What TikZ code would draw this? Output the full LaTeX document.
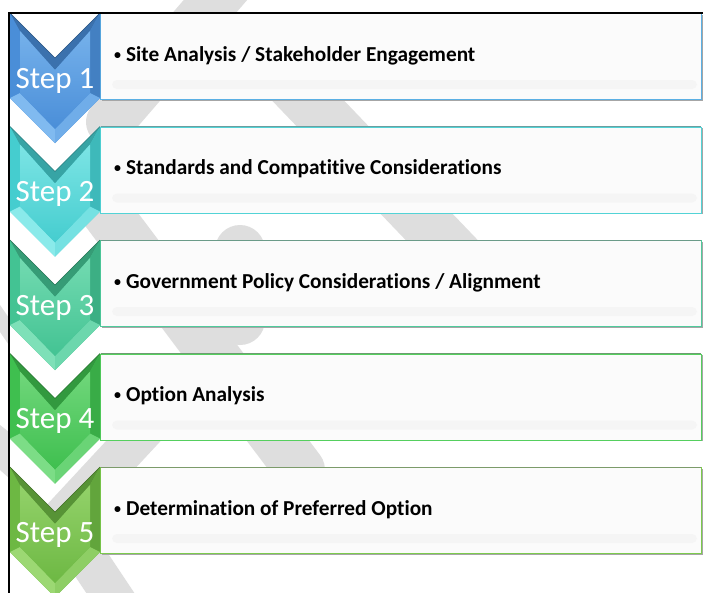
\documentclass[tikz,border=0pt]{standalone}
\usepackage{fontspec}
\setmainfont{Carlito}[Ligatures={NoCommon,NoRare}]
\definecolor{wm}{RGB}{222,222,222}
\definecolor{boxfill}{RGB}{251,251,251}
\definecolor{cabase}{RGB}{74,142,216}
\definecolor{calight}{RGB}{128,186,240}
\definecolor{caedge}{RGB}{91,176,228}
\definecolor{cbbase}{RGB}{69,205,207}
\definecolor{cblight}{RGB}{138,234,234}
\definecolor{cbedge}{RGB}{82,211,214}
\definecolor{ccbase}{RGB}{67,195,147}
\definecolor{cclight}{RGB}{126,224,184}
\definecolor{ccedge}{RGB}{79,203,156}
\definecolor{cdbase}{RGB}{63,191,79}
\definecolor{cdlight}{RGB}{124,221,134}
\definecolor{cdedge}{RGB}{85,207,94}
\definecolor{cebase}{RGB}{109,184,67}
\definecolor{celight}{RGB}{156,216,115}
\definecolor{ceedge}{RGB}{124,203,76}
\tikzset{
  band/.style={draw=wm, line cap=round},
  boxshape/.style={draw=#1, line width=1.2pt, fill=boxfill, minimum width=601pt, minimum height=86pt, inner sep=0pt, anchor=north west},
  steplabel/.style={anchor=base, text=white, inner sep=0pt, font=\fontsize{31}{36}\selectfont},
  itemtext/.style={anchor=base west, inner sep=0pt, font=\bfseries\fontsize{21.3}{25}\selectfont}
}
\newcommand{\smallbullet}{\raisebox{2pt}{\fontsize{14}{14}\selectfont •}}
% #1 index, #2 top, #3 colour prefix, #4 text
\newcommand{\chevstep}[4]{%
  \fill[black!35] (101.5,{#2+1.5}) rectangle (702.5,{#2+87.5});
  \node[boxshape=#3edge] (box#1) at (100,#2) {};
  \fill[black!4, rounded corners=5pt] (112,{#2+67}) rectangle (697,{#2+76});
  \draw[#3edge!55!black!70, line width=1pt] (100.5,#2) -- (700.5,#2);
  \node[itemtext] (txt#1) at (114,{#2+48}) {\smallbullet\hspace{5pt}#4};
  % chevron
  \fill[#3base] (10,#2) -- (55,{#2+45}) -- (100,#2) -- (100,{#2+85}) -- (55,{#2+130}) -- (10,{#2+85}) -- cycle;
  \fill[#3base!80!black] (10,#2) -- (55,{#2+45}) -- (100,#2) -- (90,{#2+18}) -- (55,{#2+57}) -- (20,{#2+18}) -- cycle;
  \fill[#3base!90!black] (100,#2) -- (100,{#2+85}) -- (90,{#2+80}) -- (90,{#2+18}) -- cycle;
  \fill[#3light] (10,{#2+85}) -- (55,{#2+130}) -- (55,{#2+116}) -- (20,{#2+80}) -- cycle;
  \fill[#3light!70!#3base] (100,{#2+85}) -- (55,{#2+130}) -- (55,{#2+116}) -- (90,{#2+80}) -- cycle;
  \shade[top color=#3light!80!#3base, bottom color=#3base] (20,{#2+18}) -- (55,{#2+57}) -- (90,{#2+18}) -- (90,{#2+80}) -- (55,{#2+116}) -- (20,{#2+80}) -- cycle;
  \draw[#3base!60!black, line width=0.6pt] (10,#2) -- (55,{#2+45}) -- (100,#2);
  \node[steplabel] (lab#1) at (55,{#2+75}) {Step #1};
}
\begin{document}
\begin{tikzpicture}[x=1pt,y=-1pt]
\useasboundingbox (0,0) rectangle (703,592);
\clip (0,0) rectangle (703,592);
\fill[white] (0,0) rectangle (703,592);
% watermark bands
\draw[band, line width=48pt] (250,-40) -- (110,122);
\draw[band, line width=52pt] (250,40) -- (480,280);
\draw[band, line width=50pt] (240,250) -- (240,320);
\draw[band, line width=50pt] (97,200) -- (300,470);
\draw[band, line width=40pt] (190,380) -- (60,520);
\draw[band, line width=40pt] (75,540) -- (155,660);
\fill[wm] (0,305) -- (9,318) -- (9,345) -- (0,332) -- cycle;
\fill[wm] (0,425) -- (9,432) -- (9,478) -- (0,470) -- cycle;
% steps
\chevstep{1}{13}{ca}{Site Analysis / Stakeholder Engagement}
\chevstep{2}{126.5}{cb}{Standards and Compatitive Considerations}
\chevstep{3}{240}{cc}{Government Policy Considerations / Alignment}
\chevstep{4}{353.5}{cd}{Option Analysis}
\chevstep{5}{467}{ce}{Determination of Preferred Option}
% frame
\draw[line width=1.3pt] (9,600) -- (9,13) -- (710,13);
\end{tikzpicture}
\end{document}
